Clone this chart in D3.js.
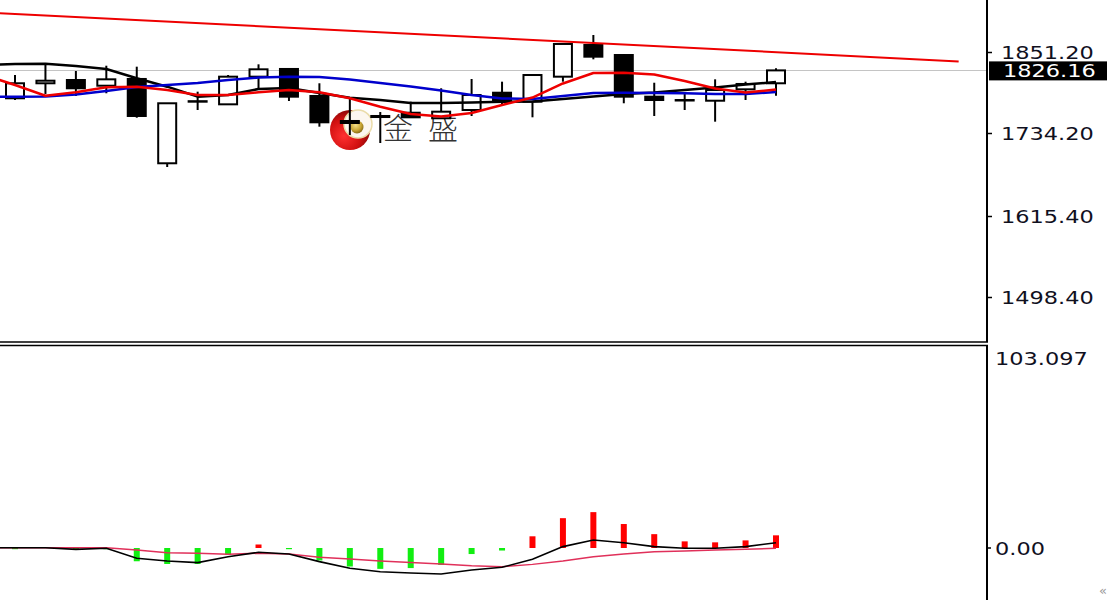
<!DOCTYPE html>
<html>
<head>
<meta charset="utf-8">
<script src="https://cdn.jsdelivr.net/npm/d3@7/dist/d3.min.js"></script>
<style>
html,body{margin:0;padding:0;background:#fff;}
svg{display:block;}
</style>
</head>
<body>
<svg id="chart" width="1111" height="600"></svg>
<script>
// ---------- data ----------
const opens  = [1786.0,1807.6,1812.3,1804.1,1813.8,1692.4,1781.1,1777.3,1817.1,1828.2,1789.3,1753.3,1759.0,1765.2,1757.2,1769.1,1794.0,1781.1,1817.1,1862.7,1848.3,1788.3,1783.5,1782.5,1798.9,1807.6];
const highs  = [1819.5,1833.9,1825.3,1832.9,1831.5,1778.8,1795.5,1819.5,1834.9,1829.6,1807.6,1786.4,1766.2,1781.1,1800.4,1813.8,1809.9,1819.5,1864.2,1877.1,1849.8,1808.4,1793.2,1813.3,1809.9,1829.2];
const lows   = [1783.5,1792.2,1789.3,1793.2,1758.0,1687.0,1769.1,1777.3,1800.8,1782.1,1745.1,1733.1,1721.6,1757.6,1756.2,1760.5,1776.3,1758.6,1809.9,1842.1,1778.8,1760.5,1769.1,1752.3,1783.5,1789.7];
const closes = [1807.6,1811.3,1800.4,1813.3,1760.5,1778.8,1781.8,1817.1,1827.7,1788.3,1751.4,1750.4,1760.5,1758.6,1766.7,1790.7,1781.1,1819.5,1864.2,1845.9,1788.3,1783.5,1782.8,1797.9,1806.6,1826.16];

// moving averages, first value belongs to the bar just left of the view (index -1)
const maBlack = [1833.9,1835.2,1835.6,1832.5,1828.2,1814.8,1802.7,1788.3,1790.7,1799.4,1800.8,1793.6,1786.8,1783.5,1779.2,1779.2,1779.9,1781.1,1781.4,1785.0,1788.6,1792.2,1794.3,1797.9,1801.5,1805.8,1809.4];
const maBlue  = [1788.3,1788.3,1788.6,1791.4,1796.5,1802.2,1805.1,1808.0,1812.3,1815.9,1817.1,1816.6,1813.0,1808.0,1803.0,1797.2,1790.7,1785.7,1785.0,1789.3,1793.6,1794.0,1793.6,1793.2,1792.2,1792.2,1795.0];
const maRed   = [1819.5,1805.1,1789.7,1794.6,1801.8,1802.7,1797.9,1790.7,1790.7,1794.6,1797.9,1794.6,1786.0,1773.9,1763.4,1759.8,1764.8,1776.3,1787.1,1807.3,1822.4,1822.8,1820.2,1810.9,1800.1,1794.3,1798.6];

// trend line: [bar index, price]
const trendLine = [[-0.5,1908.5],[31,1839.1]];

const priceTicks = [1851.20, 1734.20, 1615.40, 1498.40];
const lastPrice = 1826.16;

// MACD panel
const macdMax = 103.097;
const macdTicks = [0];
const macdHist   = [-0.5,0,-0.8,-0.5,-6.8,-8.2,-8.2,-3.6,1.8,-0.5,-6.4,-9.5,-10.7,-10.3,-8.7,-3.1,-1.3,6.0,15.3,18.4,12.3,7.1,3.4,2.9,3.9,6.5];
const macdMain   = [0.15,0.15,0.15,-0.7,-0.15,-5.3,-6.7,-7.5,-4.5,-2.2,-3.1,-7.0,-10.4,-12.2,-12.8,-13.3,-11.3,-9.9,-5.8,0.7,4.1,2.7,0.7,-0.15,-0.15,0.7,2.7];
const macdSignal = [0.15,0.15,0.15,0.15,0.15,-1.0,-2.4,-2.7,-3.2,-2.7,-3.1,-4.8,-5.6,-6.7,-7.5,-8.2,-9.1,-9.6,-8.4,-6.7,-4.5,-3.1,-1.9,-1.5,-1.0,-0.7,-0.15];

// ---------- layout ----------
const W = 1111, H = 600;
const plotRight = 987;
const upperBottom = 342;
const lowerTop = 345.5;

const svg = d3.select('#chart');
svg.append('rect').attr('width',W).attr('height',H).attr('fill','#fff');

const x = d3.scaleLinear().domain([0, opens.length-1]).range([15, 776]);
const y = d3.scaleLinear().domain([1498.40, 1851.20]).range([298, 53]);
const ym = d3.scaleLinear().domain([0, macdMax]).range([548, 347]);

const defs = svg.append('defs');
defs.append('clipPath').attr('id','clipUp').append('rect')
  .attr('x',0).attr('y',0).attr('width',plotRight-1).attr('height',upperBottom-1);
defs.append('clipPath').attr('id','clipLow').append('rect')
  .attr('x',0).attr('y',lowerTop+1).attr('width',plotRight-1).attr('height',H-lowerTop);

const rg = defs.append('radialGradient').attr('id','redG').attr('cx','35%').attr('cy','65%').attr('r','65%');
rg.append('stop').attr('offset','0%').attr('stop-color','#ff3030');
rg.append('stop').attr('offset','65%').attr('stop-color','#d01010');
rg.append('stop').attr('offset','100%').attr('stop-color','#8a0808');
const gg = defs.append('radialGradient').attr('id','goldG').attr('cx','40%').attr('cy','35%').attr('r','70%');
gg.append('stop').attr('offset','0%').attr('stop-color','#f4e08a');
gg.append('stop').attr('offset','60%').attr('stop-color','#c9a634');
gg.append('stop').attr('offset','100%').attr('stop-color','#7d6210');

// ---------- upper panel ----------
const up = svg.append('g').attr('clip-path','url(#clipUp)');

// watermark logo
const logo = up.append('g').attr('class','logo');
logo.append('circle').attr('cx',350).attr('cy',130).attr('r',20).attr('fill','url(#redG)');
logo.append('circle').attr('cx',358).attr('cy',124).attr('r',14).attr('fill','#fcf7f0')
  .attr('stroke','#eadcaa').attr('stroke-width',1.5);
logo.append('circle').attr('cx',357).attr('cy',127).attr('r',6.5).attr('fill','url(#goldG)');
const wm = logo.append('text').attr('y',139)
  .attr('font-family','"Noto Sans CJK SC", "Noto Sans CJK JP", sans-serif')
  .attr('font-size',30).attr('fill','#333').attr('font-weight',300);
wm.append('tspan').attr('x',383).text('金');
wm.append('tspan').attr('x',428).text('盛');

// last price line
up.append('line').attr('x1',0).attr('x2',plotRight).attr('y1',Math.round(y(lastPrice))+0.5).attr('y2',Math.round(y(lastPrice))+0.5)
  .attr('stroke','#c4c4c4').attr('stroke-width',1);

// candles
const idx = d3.range(opens.length);
const bodyW = 20;
const cg = up.append('g').attr('class','candles');
cg.selectAll('line.wick').data(idx).join('line').attr('class','wick')
  .attr('x1',i=>x(i)).attr('x2',i=>x(i))
  .attr('y1',i=>y(highs[i])).attr('y2',i=>y(lows[i]))
  .attr('stroke','#000').attr('stroke-width',2);
cg.selectAll('rect.body').data(idx).join('rect').attr('class','body')
  .attr('x',i=>x(i)-bodyW/2+1).attr('width',bodyW-2)
  .attr('y',i=>y(Math.max(opens[i],closes[i])))
  .attr('height',i=>Math.max(0.5, Math.abs(y(opens[i])-y(closes[i]))))
  .attr('fill',i=>closes[i]>=opens[i]?'#fff':'#000')
  .attr('stroke','#000').attr('stroke-width',2);

// moving averages
const maLine = d3.line().x((d,i)=>x(i-1)).y(d=>y(d));
[[maBlack,'#000'],[maBlue,'#0000cc'],[maRed,'#ee0000']].forEach(([arr,col])=>{
  up.append('path').datum(arr).attr('d',maLine).attr('fill','none')
    .attr('stroke',col).attr('stroke-width',2.5).attr('stroke-linejoin','round');
});

// trend line
up.append('path').datum(trendLine)
  .attr('d',d3.line().x(d=>x(d[0])).y(d=>y(d[1])))
  .attr('fill','none').attr('stroke','#ee0000').attr('stroke-width',2);

// upper frame
svg.append('line').attr('x1',0).attr('x2',plotRight+1).attr('y1',upperBottom).attr('y2',upperBottom)
  .attr('stroke','#000').attr('stroke-width',1.6);
svg.append('line').attr('x1',plotRight).attr('x2',plotRight).attr('y1',0).attr('y2',upperBottom)
  .attr('stroke','#000').attr('stroke-width',2);

// price axis
const labelFont = '"DejaVu Sans", Verdana, sans-serif';
const ax = svg.append('g').attr('class','price-axis');
ax.selectAll('line').data(priceTicks).join('line')
  .attr('x1',plotRight).attr('x2',plotRight+5)
  .attr('y1',d=>Math.round(y(d))-0.5).attr('y2',d=>Math.round(y(d))-0.5)
  .attr('stroke','#000').attr('stroke-width',1.5);
ax.selectAll('text').data(priceTicks).join('text')
  .attr('transform',d=>`translate(1001,${y(d)+6}) scale(1.32,1)`)
  .attr('font-family',labelFont).attr('font-size',17).attr('fill','#10101e')
  .text(d=>d.toFixed(2));

// last price box
const lp = svg.append('g');
lp.append('rect').attr('x',989).attr('y',y(lastPrice)-9).attr('width',118).attr('height',19).attr('fill','#000');
lp.append('text').attr('transform',`translate(1003,${y(lastPrice)+6.5}) scale(1.32,1)`)
  .attr('font-family',labelFont).attr('font-size',17).attr('fill','#fff').text(lastPrice.toFixed(2));

// ---------- lower panel (MACD) ----------
const low = svg.append('g').attr('clip-path','url(#clipLow)');
const barW = 6;
low.selectAll('rect.hist').data(idx).join('rect').attr('class','hist')
  .attr('x',i=>x(i)-barW/2).attr('width',barW)
  .attr('y',i=>macdHist[i]>=0?ym(macdHist[i]):ym(0))
  .attr('height',i=>Math.max(macdHist[i]===0?0:1.2, Math.abs(ym(macdHist[i])-ym(0))))
  .attr('fill',i=>macdHist[i]>=0?'#ff0000':'#11ee11');
const mLine = d3.line().x((d,i)=>x(i-1)).y(d=>ym(d));
low.append('path').datum(macdSignal).attr('d',mLine).attr('fill','none')
  .attr('stroke','#e0305a').attr('stroke-width',1.5);
low.append('path').datum(macdMain).attr('d',mLine).attr('fill','none')
  .attr('stroke','#000').attr('stroke-width',1.6);

// lower frame
svg.append('line').attr('x1',0).attr('x2',plotRight+1).attr('y1',lowerTop).attr('y2',lowerTop)
  .attr('stroke','#000').attr('stroke-width',1.5);
svg.append('line').attr('x1',plotRight).attr('x2',plotRight).attr('y1',lowerTop).attr('y2',H)
  .attr('stroke','#000').attr('stroke-width',2);

const mx = svg.append('g').attr('class','macd-axis');
mx.append('text').attr('transform',`translate(995,365) scale(1.32,1)`)
  .attr('font-family',labelFont).attr('font-size',17).attr('fill','#10101e').text(macdMax.toFixed(3));
mx.selectAll('line').data(macdTicks).join('line')
  .attr('x1',plotRight).attr('x2',plotRight+4).attr('y1',d=>ym(d)).attr('y2',d=>ym(d))
  .attr('stroke','#000').attr('stroke-width',1.5);
mx.selectAll('text.t').data(macdTicks).join('text').attr('class','t')
  .attr('transform',d=>`translate(995,${ym(d)+7}) scale(1.32,1)`)
  .attr('font-family',labelFont).attr('font-size',17).attr('fill','#10101e').text(d=>d.toFixed(2));

svg.append('text').attr('x',1099).attr('y',595).attr('font-family',labelFont)
  .attr('font-size',13).attr('fill','#999').text('«');
</script>
</body>
</html>
